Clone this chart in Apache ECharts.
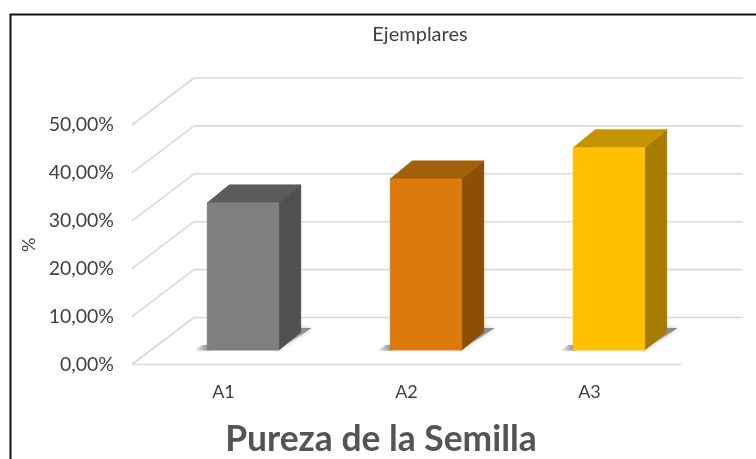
<!DOCTYPE html>
<html>
<head>
<meta charset="utf-8">
<style>
  html, body { margin: 0; padding: 0; background: #fff; }
  #container { width: 756px; height: 459px; }
</style>
<script src="https://cdn.jsdelivr.net/npm/echarts@6/dist/echarts.min.js"></script>
</head>
<body>
<div id="container"></div>
<script>
// data
var categories = ['A1', 'A2', 'A3'];
var pureza = [30.7, 35.7, 42.2];
var yTicks = [0, 10, 20, 30, 40, 50];

// front, top, side of each bar
var frontColor = ['#7f7f7f', '#dd7a0e', '#ffc000'];
var topColor = ['#5b5b5b', '#a3600b', '#c49400'];
var sideColor = ['#505050', '#8b5005', '#a67c00'];

// fake 3d depth, in pixels
var wallDx = 62;
var wallDy = 47;
var barOffsetDx = 19.5;
var barOffsetDy = 14.5;
var barDepthDx = 22;
var barDepthDy = 18;
var barRatio = 0.39;

var fontName = 'Lato, "Open Sans", sans-serif';
var gridColor = '#d9d9d9';

function line(x1, y1, x2, y2) {
    return {
        type: 'line',
        shape: { x1: x1, y1: y1, x2: x2, y2: y2 },
        style: { stroke: gridColor, lineWidth: 1.6 },
        silent: true
    };
}

function poly(points, fill, stroke) {
    return {
        type: 'polygon',
        shape: { points: points },
        style: { fill: fill, stroke: stroke || fill, lineWidth: 1 }
    };
}

// walls and floor
function renderWall(params, api) {
    var sys = params.coordSys;
    var y = api.coord([0, api.value(1)])[1];
    var left = sys.x;
    var right = sys.x + sys.width;
    var children = [
        line(left, y, left + wallDx, y - wallDy),
        line(left + wallDx, y - wallDy, right + wallDx, y - wallDy)
    ];
    if (api.value(1) === 0) {
        children.push(line(left, y, right, y));
    }
    return { type: 'group', children: children };
}

function renderBar(params, api) {
    var i = api.value(0);
    var center = api.coord([i, 0]);
    var topPt = api.coord([i, api.value(1)]);
    var w = api.size([1, 0])[0] * barRatio;
    var x0 = center[0] + barOffsetDx - w / 2;
    var x1 = x0 + w;
    var yBase = center[1] - barOffsetDy;
    var yTop = topPt[1] - barOffsetDy;
    var dx = barDepthDx;
    var dy = barDepthDy;

    // soft shadow on the floor, behind the bar
    var shadow = {
        type: 'polygon',
        shape: {
            points: [
                [x1 - 2, yBase + 0.5],
                [x1 + dx + 11, yBase - dy - 4],
                [x1 + dx - 4, yBase - dy - 4],
                [x1 - 4, yBase - 4]
            ]
        },
        style: {
            fill: {
                type: 'linear', x: 1, y: 0, x2: 0.2, y2: 1,
                colorStops: [
                    { offset: 0, color: '#858585' },
                    { offset: 0.7, color: '#a0a0a0' },
                    { offset: 1, color: '#eeeeee' }
                ]
            },
            shadowBlur: 4,
            shadowColor: 'rgba(150,150,150,0.7)'
        }
    };
    var leftShadow = {
        type: 'polygon',
        shape: { points: [[x0 - 12, yBase + 0.5], [x0 + 2, yBase + 0.5], [x0 + 2, yBase - 5], [x0 - 5, yBase - 5]] },
        style: {
            fill: {
                type: 'linear', x: 1, y: 0, x2: 0, y2: 0,
                colorStops: [
                    { offset: 0, color: '#858585' },
                    { offset: 1, color: '#eeeeee' }
                ]
            },
            shadowBlur: 2,
            shadowColor: 'rgba(170,170,170,0.5)'
        }
    };

    return {
        type: 'group',
        children: [
            shadow,
            leftShadow,
            poly([[x1, yTop], [x1 + dx, yTop - dy], [x1 + dx, yBase - dy], [x1, yBase]], sideColor[i]),
            poly([[x0, yTop], [x0 + dx, yTop - dy], [x1 + dx, yTop - dy], [x1, yTop]], topColor[i]),
            poly([[x0, yTop], [x1, yTop], [x1, yBase], [x0, yBase]], frontColor[i])
        ]
    };
}

var dom = document.getElementById('container');
var myChart = echarts.init(dom, null, { renderer: 'canvas' });

var option = {
    animation: false,
    backgroundColor: '#ffffff',
    title: [
        {
            text: 'Ejemplares',
            left: 415,
            top: 20,
            textAlign: 'center',
            textStyle: { fontFamily: fontName, fontSize: 20, fontWeight: 'normal', color: '#404040' }
        },
        {
            text: 'Pureza de la Semilla',
            left: 376,
            top: 417,
            textAlign: 'center',
            textStyle: { fontFamily: fontName, fontSize: 35.4, fontWeight: 'bold', color: '#545454' }
        }
    ],
    grid: { left: 132, top: 125, width: 549, height: 239.5 },
    xAxis: {
        type: 'category',
        data: categories,
        axisLine: { show: false },
        axisTick: { show: false },
        axisLabel: { margin: 19, fontFamily: fontName, fontSize: 18, color: '#404040' }
    },
    yAxis: {
        type: 'value',
        min: 0,
        max: 50,
        interval: 10,
        name: '%',
        nameLocation: 'middle',
        nameGap: 94,
        nameTextStyle: { fontFamily: fontName, fontSize: 18, color: '#404040' },
        axisLine: { show: false },
        axisTick: { show: false },
        splitLine: { show: false },
        axisLabel: {
            margin: 18,
            fontFamily: fontName,
            fontSize: 19.5,
            color: '#404040',
            padding: [2, 0, 0, 0],
            formatter: function (v) { return v.toFixed(2).replace('.', ',') + '%'; }
        }
    },
    series: [
        {
            type: 'custom',
            renderItem: renderWall,
            clip: false,
            silent: true,
            z: 1,
            data: yTicks.map(function (t) { return [0, t]; })
        },
        {
            type: 'custom',
            renderItem: renderBar,
            clip: false,
            z: 2,
            data: pureza.map(function (v, i) { return [i, v]; })
        }
    ],
    graphic: [
        {
            type: 'polyline',
            shape: { points: [[756, 14.5], [10.5, 14.5], [10.5, 459]] },
            style: { stroke: '#111111', lineWidth: 2, fill: 'none' },
            silent: true
        }
    ]
};

myChart.setOption(option);
window.addEventListener('resize', myChart.resize);
</script>
</body>
</html>
